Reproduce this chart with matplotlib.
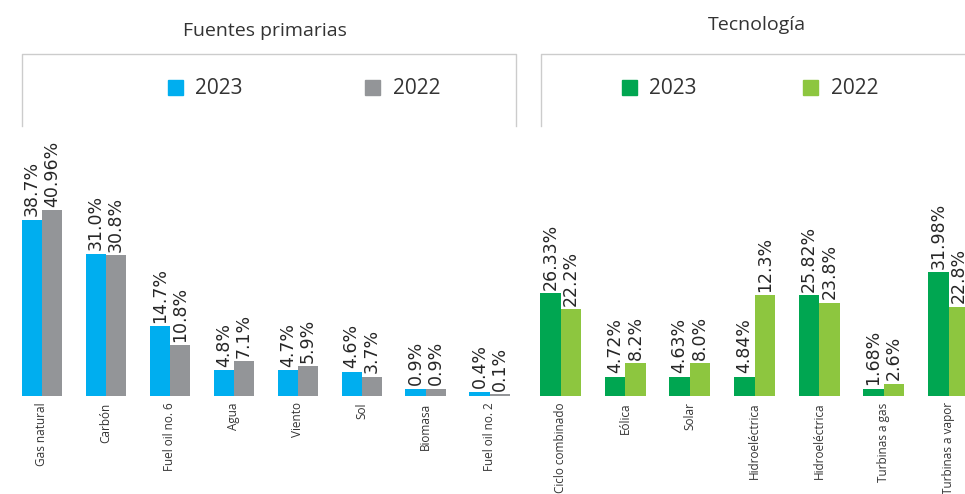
import numpy as np
import matplotlib.pyplot as plt
from matplotlib.lines import Line2D
from matplotlib.patches import Patch

# Fuentes primarias
fuentes = ['Gas natural', 'Carbón', 'Fuel oil no. 6', 'Agua', 'Viento', 'Sol', 'Biomasa', 'Fuel oil no. 2']
fuentes_2023 = [38.8, 31.3, 15.4, 5.7, 5.7, 5.3, 1.6, 0.9]
fuentes_2022 = [40.96, 31.0, 11.2, 7.7, 6.6, 4.2, 1.6, 0.4]
fuentes_lbl_2023 = ['38.7%', '31.0%', '14.7%', '4.8%', '4.7%', '4.6%', '0.9%', '0.4%']
fuentes_lbl_2022 = ['40.96%', '30.8%', '10.8%', '7.1%', '5.9%', '3.7%', '0.9%', '0.1%']

# Tecnologia
tecno = ['Ciclo combinado', 'Eólica', 'Solar', 'Hidroeléctrica', 'Hidroeléctrica', 'Turbinas a gas', 'Turbinas a vapor']
tecno_2023 = [26.3, 4.9, 4.9, 4.9, 25.8, 1.8, 31.7]
tecno_2022 = [22.2, 8.4, 8.4, 25.8, 23.8, 3.1, 22.8]
tecno_lbl_2023 = ['26.33%', '4.72%', '4.63%', '4.84%', '25.82%', '1.68%', '31.98%']
tecno_lbl_2022 = ['22.2%', '8.2%', '8.0%', '12.3%', '23.8%', '2.6%', '22.8%']

W, H = 965, 494
TXT = '#333333'
plt.rcParams['font.family'] = ['Open Sans', 'DejaVu Sans']


def fx(x):
    return x / W


def fy(y):
    return 1 - y / H


fig = plt.figure(figsize=(W / 100, H / 100), dpi=100)


def panel(rect, cats, v23, v22, l23, l22, c23, c22, xlim, ylim):
    x0, x1, ytop, ybot = rect
    ax = fig.add_axes([fx(x0), fy(ybot), (x1 - x0) / W, (ybot - ytop) / H])
    x = np.arange(len(cats))
    bw = 0.317
    b1 = ax.bar(x - bw / 2, v23, bw, color=c23, label='2023')
    b2 = ax.bar(x + bw / 2, v22, bw, color=c22, label='2022')
    for bars, lbls in ((b1, l23), (b2, l22)):
        for b, t in zip(bars, lbls):
            ax.annotate(t, (b.get_x() + b.get_width() / 2, b.get_height()),
                        xytext=(0, 2.5), textcoords='offset points', rotation=90,
                        ha='center', va='bottom', fontsize=12.5, color='#262626',
                        family='DejaVu Sans', annotation_clip=False)
    ax.set_xlim(*xlim)
    ax.set_ylim(*ylim)
    ax.set_xticks(x)
    ax.set_xticklabels(cats, rotation=90, fontsize=8.5, color=TXT)
    ax.tick_params(axis='x', length=0, pad=4.5)
    ax.set_yticks([])
    for s in ax.spines.values():
        s.set_visible(False)
    ax.patch.set_alpha(0)
    return ax, b1, b2


axl, l1, l2 = panel((22, 516, 126, 396), fuentes, fuentes_2023, fuentes_2022,
                    fuentes_lbl_2023, fuentes_lbl_2022, '#00aeef', '#939598',
                    (-0.3125, -0.3125 + 494 / 63.96), (0, 270 / 4.54))
axr, r1, r2 = panel((540, 982, 126, 396), tecno, tecno_2023, tecno_2022,
                    tecno_lbl_2023, tecno_lbl_2022, '#00a651', '#8dc63f',
                    (-0.317, -0.317 + 442 / 64.67), (0, 270 / 3.91))

# panel titles
fig.text(fx(265), fy(31), 'Fuentes primarias', ha='center', va='center', fontsize=14, color=TXT)
fig.text(fx(757), fy(25), 'Tecnología', ha='center', va='center', fontsize=14, color=TXT)

# frame lines
fc = '#cccccc'
fig.add_artist(Line2D([fx(22), fx(22), fx(516), fx(516)], [fy(126), fy(54), fy(54), fy(126)],
                      color=fc, lw=1.0))
fig.add_artist(Line2D([fx(541), fx(541), fx(965)], [fy(126), fy(54), fy(54)],
                      color=fc, lw=1.0))

# legends
for bars, cx, cy, cs in (((l1, l2), 304, 89, 5.9), ((r1, r2), 750, 89, 5.1)):
    fig.legend(handles=[Patch(color=b.patches[0].get_facecolor()) for b in bars],
               labels=['2023', '2022'], loc='center', bbox_to_anchor=(fx(cx), fy(cy)),
               ncol=2, frameon=False, fontsize=15, handlelength=0.72, handleheight=0.72,
               handletextpad=0.6, columnspacing=cs, labelcolor=TXT, borderpad=0)

fig.savefig('out.png', dpi=100)
